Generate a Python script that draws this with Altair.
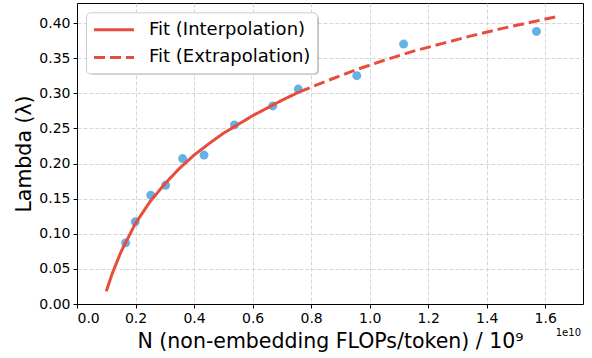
import altair as alt
import pandas as pd

FONT = "DejaVu Sans"

# Observed points (N in units of 1e10 FLOPs/token)
n_obs = [0.166, 0.199, 0.252, 0.303, 0.361, 0.434, 0.538, 0.669, 0.756, 0.956, 1.116, 1.570]
lam_obs = [0.087, 0.117, 0.155, 0.169, 0.207, 0.212, 0.255, 0.282, 0.306, 0.325, 0.370, 0.388]

# Fit curve
interp_n = [0.10, 0.12, 0.15, 0.20, 0.25, 0.30, 0.35, 0.40, 0.45, 0.50, 0.60, 0.70, 0.76]
interp_lam = [0.018, 0.043, 0.074, 0.115, 0.146, 0.171, 0.193, 0.212, 0.228, 0.243, 0.268, 0.290, 0.302]
extrap_n = [0.76, 0.85, 0.95, 1.05, 1.15, 1.25, 1.35, 1.45, 1.55, 1.65]
extrap_lam = [0.302, 0.317, 0.333, 0.347, 0.360, 0.371, 0.382, 0.392, 0.401, 0.410]

x_ticks = [0.0, 0.2, 0.4, 0.6, 0.8, 1.0, 1.2, 1.4, 1.6]
y_ticks = [0.0, 0.05, 0.10, 0.15, 0.20, 0.25, 0.30, 0.35, 0.40]

series = ["Fit (Interpolation)", "Fit (Extrapolation)"]

pts = pd.DataFrame({"n": n_obs, "lam": lam_obs})
fit = pd.concat([
    pd.DataFrame({"n": interp_n, "lam": interp_lam, "series": series[0]}),
    pd.DataFrame({"n": extrap_n, "lam": extrap_lam, "series": series[1]}),
])

xs = alt.Scale(domain=[0, 1.729], nice=False, zero=False)
ys = alt.Scale(domain=[0, 0.4285], nice=False)

xaxis = alt.Axis(
    values=x_ticks, format=".1f", title="N (non-embedding FLOPs/token) / 10⁹",
    titleFontSize=20.5, titlePadding=6, grid=True, labelOverlap=False)
yaxis = alt.Axis(
    values=y_ticks, format=".2f", title="Lambda (λ)",
    titleFontSize=20.5, titlePadding=4, grid=True, labelOverlap=False)

xenc = alt.X("n:Q", scale=xs, axis=xaxis)
yenc = alt.Y("lam:Q", scale=ys, axis=yaxis)

points = alt.Chart(pts).mark_circle(size=80, color="#5DADE2", opacity=0.95).encode(
    x=xenc, y=yenc)

leg = alt.Legend(title=None, orient="none", legendX=9, legendY=9.3)
lines = alt.Chart(fit).mark_line(strokeWidth=3).encode(
    x=xenc,
    y=yenc,
    color=alt.Color("series:N", scale=alt.Scale(domain=series, range=["#E74C3C", "#E74C3C"]),
                    legend=leg),
    strokeDash=alt.StrokeDash("series:N", scale=alt.Scale(domain=series, range=[[1, 0], [11, 5]]),
                              legend=leg),
    detail="series:N",
)

# legend drop shadow (decoration behind the legend box)
shadow = alt.Chart(pd.DataFrame({"k": [0]})).mark_rect(
    color="#999999", opacity=0.6, cornerRadius=4
).encode(x=alt.value(12), x2=alt.value(242), y=alt.value(12.3), y2=alt.value(71.7))

offset_text = alt.Chart(pd.DataFrame({"t": ["1e10"]})).mark_text(
    font=FONT, fontSize=10, align="right", baseline="middle", color="black"
).encode(x=alt.value(504), y=alt.value(330), text="t:N")

chart = alt.layer(points, shadow, lines, offset_text).properties(
    width=506, height=301,
    padding={"left": 77, "top": 3, "right": 9, "bottom": 54},
    autosize=alt.AutoSizeParams(type="none"),
).configure_view(
    stroke="black", strokeWidth=1
).configure_axis(
    labelFont=FONT, titleFont=FONT, labelFontSize=14, labelColor="black",
    titleColor="black", titleFontWeight="normal",
    domainColor="black", tickColor="black", tickSize=4, labelPadding=3,
    gridColor="#cccccc", gridDash=[4, 2], gridWidth=0.8,
).configure_legend(
    labelFont=FONT, labelFontSize=18, labelColor="black", labelLimit=0,
    symbolType="M-2,0H2", symbolSize=400, symbolStrokeWidth=3,
    symbolOffset=10.5, labelOffset=23.5, rowPadding=6.6,
    fillColor="white", strokeColor="#cccccc", cornerRadius=4, padding=6,
)

chart.save("out.html", embed_options={"renderer": "svg", "actions": False})
